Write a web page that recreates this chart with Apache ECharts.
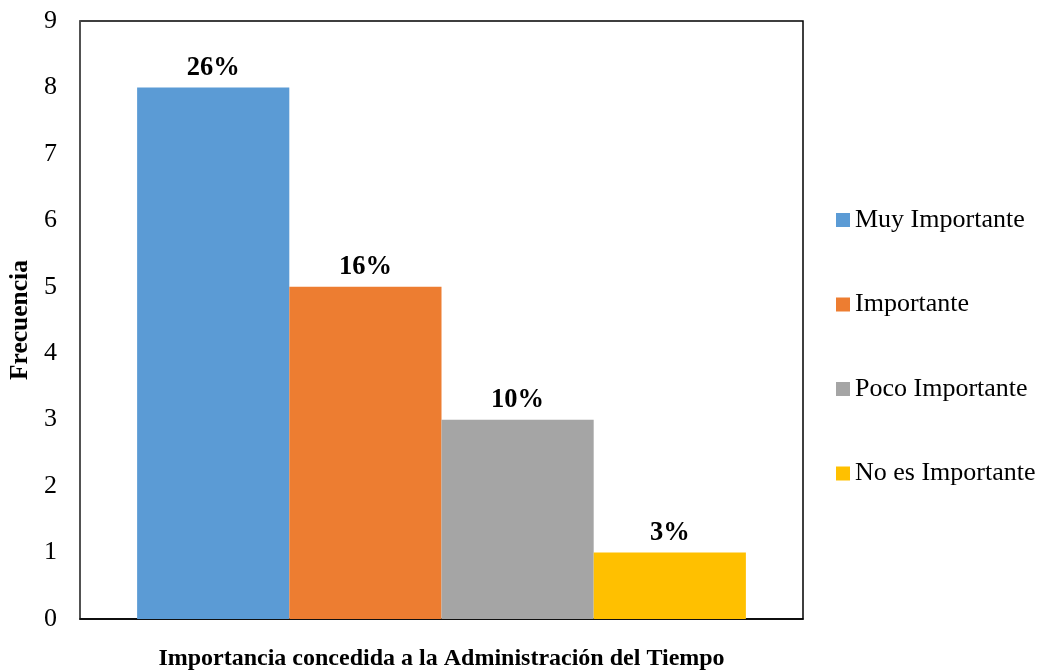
<!DOCTYPE html>
<html>
<head>
<meta charset="utf-8">
<script src="https://cdn.jsdelivr.net/npm/echarts@6/dist/echarts.min.js"></script>
<style>html,body{margin:0;padding:0;background:#fff;}#c{width:1043px;height:670px;}</style>
</head>
<body>
<div id="c"></div>
<script>
const seriesNames = ['Muy Importante', 'Importante', 'Poco Importante', 'No es Importante'];
const values = [8, 5, 3, 1];
const percentLabels = ['26%', '16%', '10%', '3%'];
const colors = ['#5B9BD5', '#ED7D31', '#A5A5A5', '#FFC000'];
const yTicks = [0, 1, 2, 3, 4, 5, 6, 7, 8, 9];

const font = "'Liberation Serif', 'Times New Roman', serif";
const chart = echarts.init(document.getElementById('c'));
chart.setOption({
  animation: false,
  textStyle: { fontFamily: font },
  grid: { left: 80, right: 240, top: 21, bottom: 51, show: true, borderColor: '#000', borderWidth: 1.5,
          outerBoundsMode: 'none', containLabel: false },
  legend: {
    orient: 'vertical', left: 836, top: 207, padding: 0, itemWidth: 14, itemHeight: 14, itemGap: 58.5,
    icon: 'rect', textStyle: { fontFamily: font, fontSize: 26, color: '#000' },
    data: seriesNames
  },
  xAxis: {
    type: 'category', data: [''],
    axisTick: { show: false }, axisLabel: { show: false },
    axisLine: { lineStyle: { color: '#000', width: 1.5 } },
    name: 'Importancia concedida a la Administración del Tiempo',
    nameLocation: 'middle', nameGap: 28,
    nameTextStyle: { fontFamily: font, fontSize: 24, fontWeight: 'bold', color: '#000' }
  },
  yAxis: {
    type: 'value', min: yTicks[0], max: yTicks[yTicks.length - 1], interval: 1,
    splitLine: { show: false }, axisTick: { show: false },
    axisLine: { show: true, lineStyle: { color: '#595959', width: 1.5 } },
    axisLabel: { fontFamily: font, fontSize: 26, color: '#000', margin: 23 },
    name: 'Frecuencia', nameLocation: 'middle', nameGap: 47, nameRotate: 90,
    nameTextStyle: { fontFamily: font, fontSize: 25.5, fontWeight: 'bold', color: '#000' }
  },
  series: seriesNames.map((n, i) => ({
    name: n, type: 'bar', data: [values[i]],
    barGap: '0%', barCategoryGap: '15.8%',
    itemStyle: { color: colors[i] },
    label: {
      show: true, position: 'top', distance: 6,
      formatter: () => percentLabels[i],
      fontFamily: font, fontSize: 26.5, fontWeight: 'bold', color: '#000'
    }
  }))
});
</script>
</body>
</html>
